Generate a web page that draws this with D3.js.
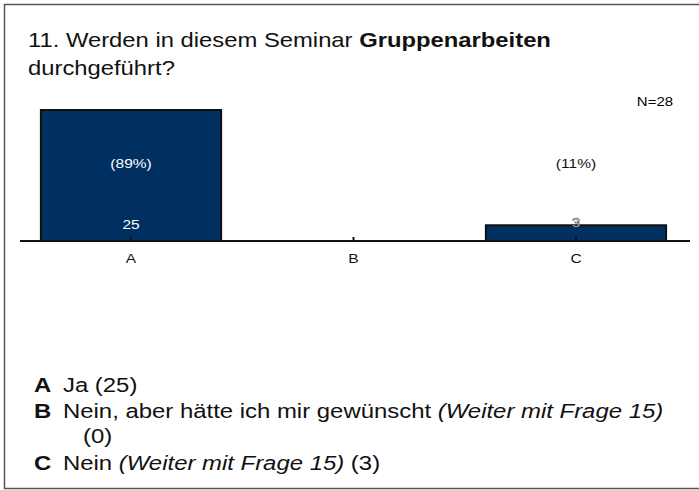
<!DOCTYPE html>
<html lang="de">
<head>
  <meta charset="UTF-8" />
  <title>Gruppenarbeiten</title>
  <script src="https://cdn.jsdelivr.net/npm/d3@7"></script>
  <style>
    body {
      margin: 0;
      background: white;
      font-family: "Liberation Sans", Arial, sans-serif;
    }
  </style>
</head>
<body>
  <div id="chart"></div>

  <script>
    const categories = ["A", "B", "C"];
    const counts = [25, 0, 3];
    const percents = ["(89%)", "", "(11%)"];
    const total = "N=28";
    const legendItems = [
      { key: "A", parts: [["Ja (25)", "normal"]] },
      { key: "B", parts: [["Nein, aber hätte ich mir gewünscht ", "normal"], ["(Weiter mit Frage 15)", "italic"]] },
      { key: "", parts: [["(0)", "normal"]] },
      { key: "C", parts: [["Nein ", "normal"], ["(Weiter mit Frage 15)", "italic"], [" (3)", "normal"]] }
    ];

    const width = 699;
    const height = 490;
    const barColor = "#00305f";
    const stretch = 1.15; // glyphs in the original are drawn wider

    const svg = d3.select("#chart")
      .append("svg")
      .attr("width", width)
      .attr("height", height);

    // frame
    svg.append("rect")
      .attr("x", 4.5)
      .attr("y", 4.5)
      .attr("width", 700)
      .attr("height", 484)
      .attr("fill", "white")
      .attr("stroke", "#555")
      .attr("stroke-width", 1.5);

    // title
    const title = svg.append("text")
      .attr("transform", "translate(28,47) scale(1.134,1)")
      .attr("font-size", 21)
      .attr("fill", "#111");
    title.append("tspan").text("11. Werden in diesem Seminar ");
    title.append("tspan").attr("font-weight", "bold").text("Gruppenarbeiten");
    svg.append("text")
      .attr("transform", "translate(28,75) scale(1.134,1)")
      .attr("font-size", 21)
      .attr("fill", "#111")
      .text("durchgeführt?");

    svg.append("text")
      .attr("transform", `translate(673,106) scale(${stretch},1)`)
      .attr("text-anchor", "end")
      .attr("font-size", 13)
      .text(total);

    const baseY = 241;

    const x = d3.scaleBand()
      .domain(categories)
      .range([20, 687])
      .paddingInner(0.19)
      .paddingOuter(0.094);

    const y = d3.scaleLinear()
      .domain([0, d3.max(counts)])
      .range([baseY, 110]);

    const data = categories.map((c, i) => ({ cat: c, n: counts[i], pct: percents[i] }));

    svg.selectAll(".bar")
      .data(data)
      .enter()
      .append("rect")
      .attr("class", "bar")
      .attr("x", d => x(d.cat))
      .attr("y", d => y(d.n))
      .attr("width", x.bandwidth())
      .attr("height", d => baseY - y(d.n))
      .attr("fill", barColor)
      .attr("stroke", "#111")
      .attr("stroke-width", 2);

    // axis
    const xAxis = d3.axisBottom(x).tickSize(4).tickSizeOuter(0);
    const axisG = svg.append("g")
      .attr("transform", `translate(0, ${baseY})`)
      .call(xAxis);
    axisG.select(".domain").remove();
    axisG.selectAll(".tick line")
      .attr("y1", -4)
      .attr("y2", 0)
      .attr("stroke", "#111")
      .attr("stroke-width", 2);
    axisG.selectAll(".tick text")
      .attr("y", 0)
      .attr("dy", 0)
      .attr("transform", `translate(0,22) scale(${stretch},1)`)
      .attr("font-size", 13.5)
      .attr("font-family", "Liberation Sans, Arial, sans-serif")
      .attr("fill", "#111");

    svg.append("line")
      .attr("x1", 20)
      .attr("x2", 690)
      .attr("y1", baseY)
      .attr("y2", baseY)
      .attr("stroke", "#111")
      .attr("stroke-width", 2);

    // percentages
    svg.selectAll(".pct")
      .data(data.filter(d => d.pct))
      .enter()
      .append("text")
      .attr("class", "pct")
      .attr("transform", d => `translate(${x(d.cat) + x.bandwidth() / 2},168) scale(${stretch},1)`)
      .attr("text-anchor", "middle")
      .attr("font-size", 13.5)
      .attr("fill", d => y(d.n) < 160 ? "white" : "#111")
      .text(d => d.pct);

    // counts: inside tall bars, just above short ones
    svg.selectAll(".count")
      .data(data.filter(d => d.n > 0))
      .enter()
      .append("text")
      .attr("class", "count")
      .attr("transform", d => {
        const ty = y(d.n) < 200 ? 229 : y(d.n) + 1.5;
        return `translate(${x(d.cat) + x.bandwidth() / 2},${ty}) scale(${stretch},1)`;
      })
      .attr("text-anchor", "middle")
      .attr("font-size", 13.5)
      .attr("fill", "white")
      .attr("stroke", d => y(d.n) < 200 ? "none" : "#222")
      .attr("stroke-width", 0.5)
      .text(d => d.n);

    // legend
    const legendSx = 1.227;
    const legendY = [392, 417.5, 443, 470];
    legendItems.forEach((item, i) => {
      const t = svg.append("text")
        .attr("transform", `translate(34,${legendY[i]}) scale(${legendSx},1)`)
        .attr("font-size", 19.5)
        .attr("fill", "#111");
      if (item.key) {
        t.append("tspan").attr("x", 0).attr("font-weight", "bold").text(item.key);
        t.append("tspan").attr("x", 23.6).attr("font-style", item.parts[0][1]).text(item.parts[0][0]);
      } else {
        t.append("tspan").attr("x", 40).text(item.parts[0][0]);
      }
      item.parts.slice(1).forEach(p => {
        t.append("tspan").attr("font-style", p[1]).text(p[0]);
      });
    });
  </script>
</body>
</html>
